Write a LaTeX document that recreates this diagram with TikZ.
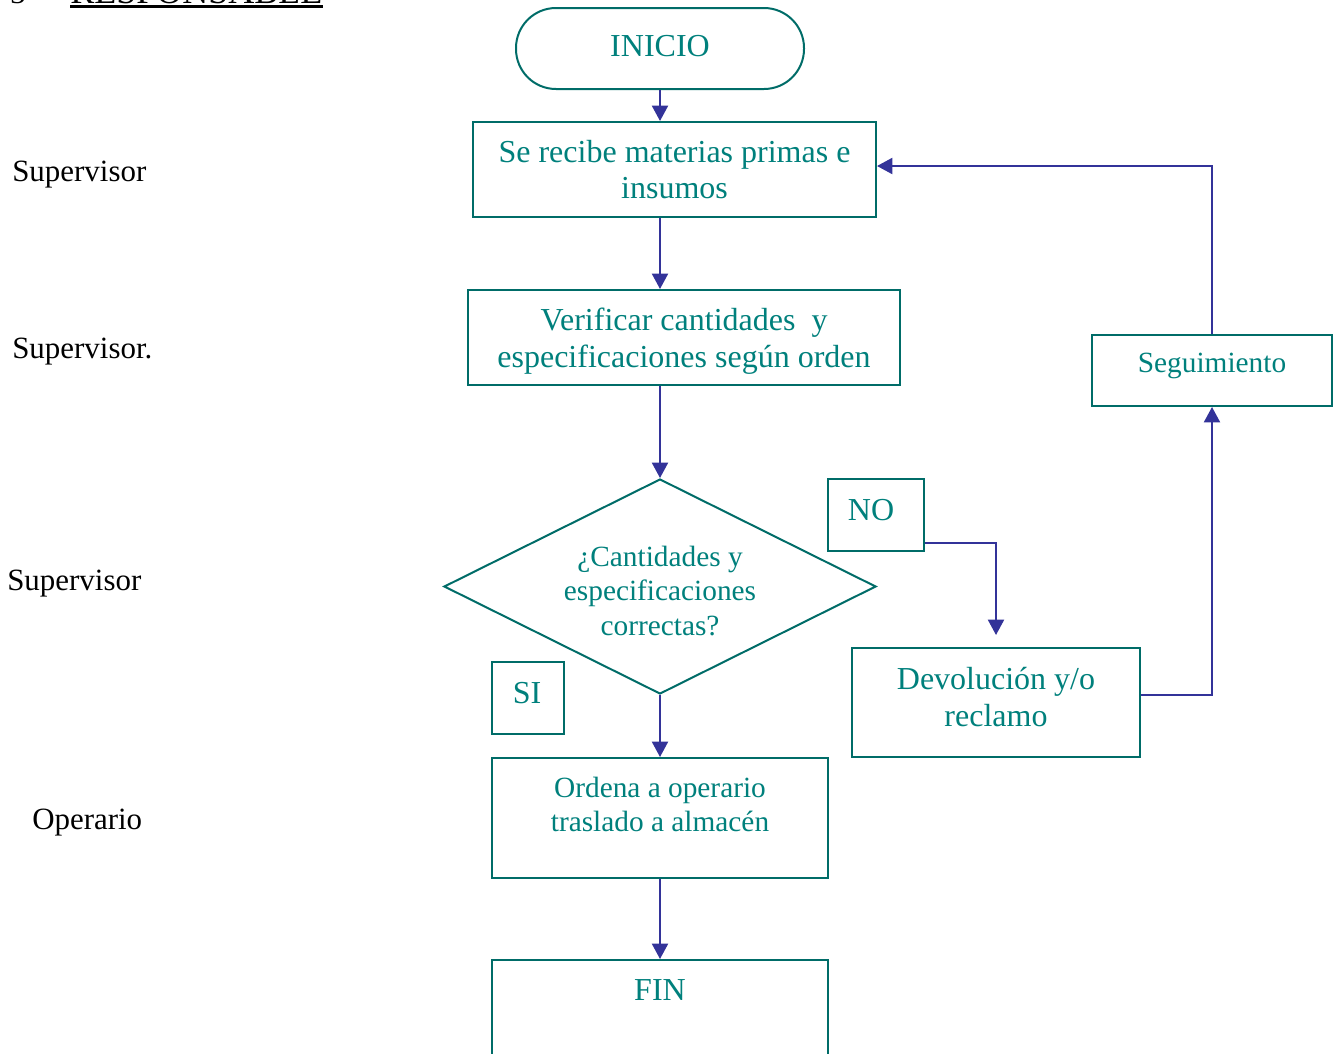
\documentclass[tikz,border=0pt]{standalone}
\usepackage{fontspec}
\setmainfont{Liberation Serif}
\usetikzlibrary{arrows.meta,shapes.geometric,calc}
\definecolor{flowtext}{RGB}{0,128,124}
\definecolor{flowline}{RGB}{0,108,104}
\definecolor{arrowblue}{RGB}{51,51,153}

\begin{document}
\begin{tikzpicture}[x=0.75pt,y=-0.75pt,
  box/.style={draw=flowline,line width=1.5pt,rectangle,inner sep=0pt},
  txt/.style={text=flowtext,font=\fontsize{24}{27.5}\selectfont,align=center,inner sep=0pt},
  smalltxt/.style={text=flowtext,font=\fontsize{22}{26}\selectfont,align=center,inner sep=0pt},
  role/.style={font=\fontsize{23.2}{27}\selectfont,inner sep=0pt,anchor=base west},
  flow/.style={draw=arrowblue,line width=1.5pt,-{Triangle[length=11.5pt,width=12pt]}}]

\useasboundingbox (0,0) rectangle (1338,1053);
\clip (0,0) rectangle (1338,1053);

% heading (runs off the top edge)
\node[font=\fontsize{23}{27}\selectfont,inner sep=0pt,anchor=base west] (num) at (10,3) {3};
\node[font=\fontsize{27}{30}\selectfont,inner sep=0pt,anchor=base west] (resp) at (70,3) {RESPONSABLE};
\draw[line width=1.6pt] ($(resp.base west)+(0,3.5)$) -- ($(resp.base east)+(0,3.5)$);

% responsible roles
\node[role] (r1) at (12,181) {Supervisor};
\node[role] (r2) at (12,358) {Supervisor.};
\node[role] (r3) at (7,590) {Supervisor};
\node[role] (r4) at (32,829) {Operario};

% process shapes
\node[box,rounded corners=30pt,minimum width=216pt,minimum height=60.75pt] (inicio) at (660,48.5) {};
\node[txt] (inicio-t) at (660,46.5) {INICIO};
\node[box,minimum width=302.25pt,minimum height=71.25pt,txt] (recibe) at (674.5,169.5) {Se recibe materias primas e\\insumos};
\node[box,minimum width=324pt,minimum height=71.25pt] (verif) at (684,337.5) {};
\node[txt] (verif-t) at (684,341) {Verificar cantidades\ \ y\\especificaciones según orden};
\node[draw=flowline,line width=1.5pt,diamond,inner sep=0pt,minimum width=324pt,minimum height=161.25pt] (dec) at (660,586.5) {};
\node[smalltxt] (dec-t) at (660,591) {¿Cantidades y\\especificaciones\\correctas?};

\node[box,minimum width=54pt,minimum height=54pt] (si) at (528,698) {};
\node[txt] (si-t) at (527,693) {SI};
\node[box,minimum width=72pt,minimum height=54pt] (no) at (876,515) {};
\node[txt] (no-t) at (871,510) {NO};

\node[box,minimum width=216pt,minimum height=81.75pt] (dev) at (996,702.5) {};
\node[txt] (dev-t) at (996,697) {Devolución y/o\\reclamo};
\node[box,minimum width=180pt,minimum height=53.25pt] (seg) at (1212,370.5) {};
\node[smalltxt] (seg-t) at (1212,366) {Seguimiento};

\node[box,minimum width=252pt,minimum height=90pt] (ordena) at (660,818) {};
\node[smalltxt,font=\fontsize{22}{25.5}\selectfont] (ordena-t) at (660,804) {Ordena a operario\\traslado a almacén};
\node[box,minimum width=252pt,minimum height=105pt] (fin) at (660,1030) {};
\node[txt] (fin-t) at (660,990) {FIN};

% connectors
\draw[flow] (inicio.south) -- (inicio.south |- recibe.north);
\draw[flow] (inicio.south |- recibe.south) -- (inicio.south |- verif.north);
\draw[flow] (inicio.south |- verif.south) -- (dec.north);
\draw[flow] (dec.south) -- (ordena.north);
\draw[flow] (ordena.south) -- (fin.north);
\draw[flow,shorten >=9pt] ($(no.south east)+(0,-9)$) -| (dev.north);
\draw[flow] ($(dev.east)+(0,-8)$) -| (seg.south);
\draw[flow] (seg.north) |- ($(recibe.east)+(0,-3.5)$);
\end{tikzpicture}
\end{document}
